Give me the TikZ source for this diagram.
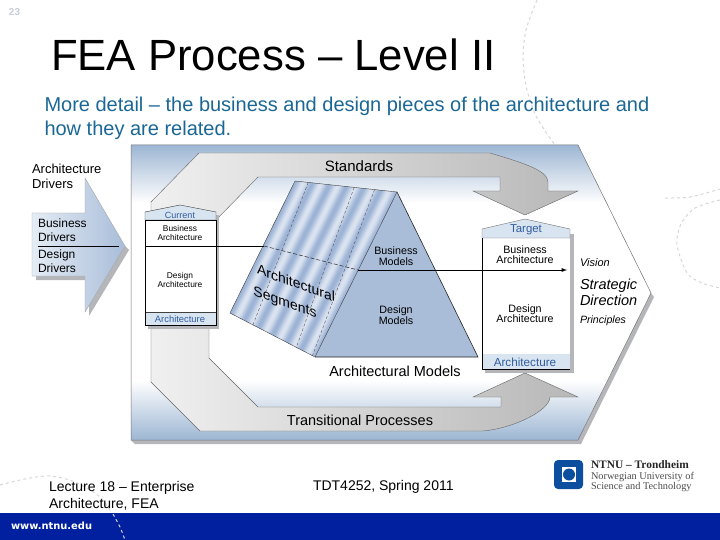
\documentclass[tikz,border=0pt]{standalone}
\usepackage{fontspec}
\setmainfont{Liberation Sans}
\newfontfamily\logofont{Liberation Serif}
\newfontfamily\urlfont{DejaVu Sans}
\usepackage{tikz}
\definecolor{panelblue}{HTML}{9DB6D3}
\definecolor{slopeblue}{HTML}{A9BDD9}
\definecolor{stripeblue}{HTML}{9CB3D6}
\definecolor{roofblue}{HTML}{D9E4F1}
\definecolor{capblue}{HTML}{2F5C9E}
\definecolor{subblue}{HTML}{1A6796}
\definecolor{footblue}{HTML}{00209F}
\definecolor{logoblue}{HTML}{0B4F9E}
\definecolor{shadowgray}{HTML}{B4B6BA}
\definecolor{decorgray}{HTML}{D4D6D8}
\def\panelpath{(131,145) -- (578,145) -- (651,293) -- (578,440) -- (131,440) -- cycle}
\def\arrowpath{(32,213) -- (85,213) -- (85,178) -- (125,246) -- (85,312) -- (85,276) -- (32,276) -- cycle}

\begin{document}
\begin{tikzpicture}[x=1pt,y=-1pt,
	every node/.style={inner sep=0pt,outer sep=0pt,align=center},
	band/.style={draw=black!60,line width=0.4pt,left color=black!6,right color=black!28},
	decor/.style={draw=decorgray,line width=1pt,dash pattern=on 3pt off 3pt},
	roof/.style={draw=black!75,line width=0.4pt,fill=roofblue},
	boxcap/.style={text=capblue}]
	\useasboundingbox (0,0) rectangle (720,540);
	\draw[decor] plot[smooth] coordinates {(537,0) (526,30) (523,60) (527,90) (537,118) (555,145)};
	\draw[decor] plot[smooth] coordinates {(665,198) (690,197) (720,189)};
	\draw[decor] plot[smooth] coordinates {(720,200) (695,208) (681,224) (677,245) (687,273) (702,283) (720,288)};
	\draw[decor] plot[smooth] coordinates {(0,485) (25,479) (50,476) (75,482) (100,497) (115,518)};
	\fill[shadowgray] (135,444) -- (581,444) -- (654,297) -- (651,293) -- (578,440) -- (131,440) -- cycle;
	\begin{scope}
		\clip \panelpath;
		\fill[white] (131,145) rectangle (660,440);
		\shade[top color=panelblue,bottom color=white] (131,145) rectangle (660,203);
		\shade[top color=white,bottom color=panelblue] (131,380) rectangle (660,440);
	\end{scope}
	\draw[black!55,line width=0.5pt] \panelpath;

	\draw[band] (151,212) -- (151,202) -- (199,153) -- (490,153) .. controls (520,162) and (548,170) .. (548,182) -- (548,191) -- (578,191) -- (525,215) -- (473,191) -- (500,191) -- (500,177) -- (258,177) -- (218,218) -- (210,222) -- cycle;
	\draw[band] (151,320) -- (151,382) -- (200,431) -- (483,431) .. controls (515,428) and (550,410) .. (550,397) -- (578,397) -- (525,373) -- (473,397) -- (501,397) -- (501,407) -- (258,407) -- (209,358) -- (209,320) -- cycle;

	\fill[slopeblue] (397,192) -- (478,357) -- (315,357) -- (358,270) -- cycle;
	\foreach \i in {0,...,89} {
		\pgfmathsetmacro{\ta}{\i/90}
		\pgfmathsetmacro{\tb}{(\i+1.6)/90}
		\pgfmathsetmacro{\m}{68+32*cos(360*6*\ta)}
		\fill[stripeblue!\m!white] ({295+102*\ta},{181+11*\ta}) -- ({295+102*min(\tb,1)},{181+11*min(\tb,1)}) -- ({230+85*min(\tb,1)},{313+44*min(\tb,1)}) -- ({230+85*\ta},{313+44*\ta}) -- cycle;
	}
	\foreach \a/\b in {0.13/0.27, 0.58/0.78, 0.78/0.97} {
		\draw[black!70,line width=0.35pt,dash pattern=on 3pt off 2pt] ({295+102*\a},{181+11*\a}) -- ({230+85*\b},{313+44*\b});
	}
	\draw[black!75,line width=0.4pt] (295,181) -- (230,313) -- (315,357) -- (397,192) -- cycle;
	\draw[black!85,line width=0.6pt] (315,357) -- (478,357) -- (397,192);

	\fill[shadowgray] (148,215) rectangle (219,329);
	\fill[white] (145,220) rectangle (216,325);
	\draw[roof] (145,220) -- (145,212) -- (180,205) -- (216,212) -- (216,220) -- cycle;
	\draw[roof] (145,312) rectangle (216,325);
	\draw[black,line width=0.5pt] (145,220) rectangle (216,325);

	\fill[shadowgray] (485,234) rectangle (574,373);
	\fill[white] (482,238) rectangle (570,369);
	\draw[roof,draw=black!55] (482,238) -- (482,229) -- (525,219) -- (570,229) -- (570,238) -- cycle;
	\fill[roofblue] (482,354) rectangle (570,369);
	\draw[black,line width=0.5pt] (482,238) -- (482,369) -- (570,369);

	\fill[shadowgray] (36,217) -- (36,280) -- (89,280) -- (89,316) -- (129,250) -- (125,246) -- (85,312) -- (85,276) -- (32,276) -- cycle;
	\shade[left color=roofblue!70!white,right color=slopeblue] \arrowpath;
	\draw[black!35,line width=0.4pt] \arrowpath;

	\coordinate (leftin) at (145,246);
	\coordinate (faceleft) at (264,246);
	\coordinate (faceright) at (358,270);
	\coordinate (visionend) at (567,270);
	\coordinate (driveleft) at (38,246);
	\coordinate (driveright) at (119,246);
	\draw[black,line width=1pt] (driveleft) -- (driveright);
	\draw[black,line width=1pt] (leftin) -- (faceleft);
	\draw[black!85,line width=0.5pt,dash pattern=on 4pt off 2pt] (faceleft) -- (faceright);
	\draw[black,line width=0.9pt,-latex] (faceright) -- (visionend);

	\node[anchor=west,font=\fontsize{10}{12}\selectfont\bfseries,text=decorgray!70!panelblue] (pagenum) at (9,12) {23};
	\node[anchor=base west,font=\fontsize{43.7}{46}\selectfont] (title) at (51,71) {FEA Process – Level II};
	\node[anchor=base west,align=left,text=subblue,font=\fontsize{20}{24}\selectfont] (subtitle) at (44.5,136) {More detail – the business and design pieces of the architecture and\\how they are related.};

	\node[anchor=west,align=left,font=\fontsize{13}{15}\selectfont] (drivers) at (32,176) {Architecture\\Drivers};
	\node[anchor=west,align=left,font=\fontsize{12}{13.5}\selectfont] (busdrv) at (38,230) {Business\\Drivers};
	\node[anchor=west,align=left,font=\fontsize{12}{13.5}\selectfont] (desdrv) at (38,261) {Design\\Drivers};

	\node[font=\fontsize{15}{17}\selectfont] (standards) at (359,166) {Standards};
	\node[font=\fontsize{14.5}{17}\selectfont] (transit) at (360,420) {Transitional Processes};
	\node[font=\fontsize{14.5}{17}\selectfont] (models) at (395,371) {Architectural Models};
	\node[font=\fontsize{10.7}{11}\selectfont] (busmod) at (396,256) {Business\\Models};
	\node[font=\fontsize{10.7}{11}\selectfont] (desmod) at (396,315) {Design\\Models};
	\node[cm={1,-0.36,0,1,(0,0)},font=\fontsize{14}{16}\selectfont] (segone) at (296,283) {Architectural};
	\node[cm={1,-0.36,0,1,(0,0)},font=\fontsize{14}{16}\selectfont] (segtwo) at (285,303) {Segments};

	\node[font=\fontsize{9}{10}\selectfont,boxcap] (current) at (180,215) {Current};
	\node[font=\fontsize{8.4}{8.5}\selectfont] (busleft) at (180,233) {Business\\Architecture};
	\node[font=\fontsize{8.4}{8.5}\selectfont] (desleft) at (180,280) {Design\\Architecture};
	\node[font=\fontsize{9.4}{10}\selectfont,boxcap] (archleft) at (180,319) {Architecture};

	\node[font=\fontsize{11.4}{12}\selectfont,boxcap] (target) at (526,230) {Target};
	\node[font=\fontsize{10.7}{10}\selectfont] (busright) at (525,255) {Business\\Architecture};
	\node[font=\fontsize{10.7}{10}\selectfont] (desright) at (525,314) {Design\\Architecture};
	\node[font=\fontsize{11.7}{12}\selectfont,boxcap] (archright) at (525,362) {Architecture};

	\node[anchor=west,font=\fontsize{11}{12}\selectfont\itshape] (vision) at (580,263) {Vision};
	\node[anchor=west,align=left,font=\fontsize{14.5}{16}\selectfont\itshape] (direction) at (580,292) {Strategic\\Direction};
	\node[anchor=west,font=\fontsize{10.6}{12}\selectfont\itshape] (principles) at (580,321) {Principles};

	\node[anchor=base west,align=left,font=\fontsize{14}{17}\selectfont] (lecture) at (49,508) {Lecture 18 – Enterprise\\Architecture, FEA};
	\node[anchor=base west,font=\fontsize{14}{15}\selectfont] (course) at (313,490) {TDT4252, Spring 2011};

	\fill[logoblue,rounded corners=4pt] (554,460) rectangle (583,489);
	\fill[white] (562,467) rectangle (576,482);
	\fill[logoblue] (569,474.5) circle (6);
	\node[anchor=base west,font=\logofont\bfseries\fontsize{11.4}{12}\selectfont,text=black!85] (ntnu) at (591,468) {NTNU – Trondheim};
	\node[anchor=base west,font=\logofont\fontsize{10.3}{12}\selectfont,text=black!70] (norway) at (591,479) {Norwegian University of};
	\node[anchor=base west,font=\logofont\fontsize{10.3}{12}\selectfont,text=black!70] (science) at (591,489.5) {Science and Technology};

	\fill[footblue] (0,513) rectangle (720,540);
	\draw[decor] plot[smooth] coordinates {(113,514) (120,527) (125,540)};
	\node[anchor=base west,font=\urlfont\bfseries\fontsize{9.9}{12}\selectfont,text=white] (url) at (11,529) {www.ntnu.edu};
\end{tikzpicture}
\end{document}
